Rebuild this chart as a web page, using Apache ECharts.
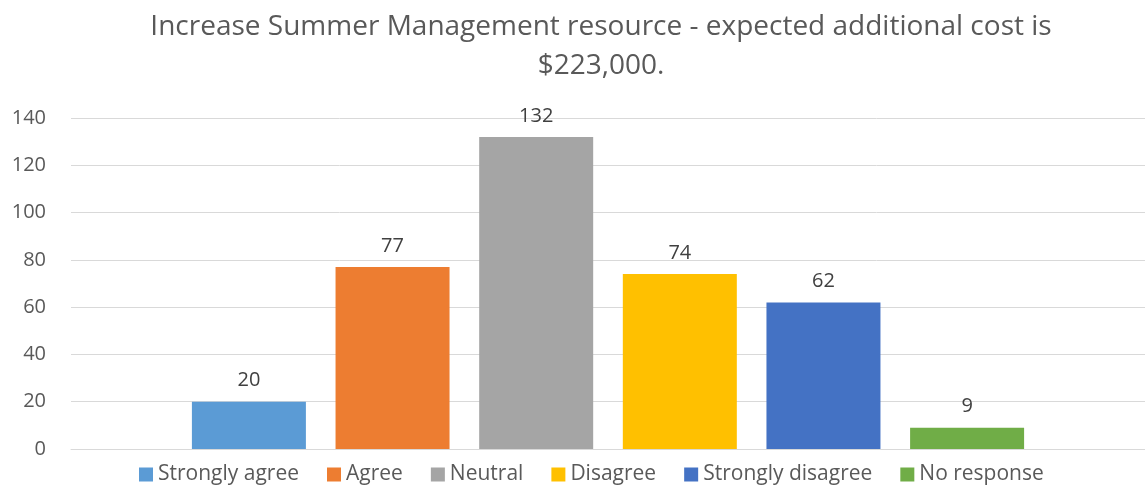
<!DOCTYPE html>
<html>
<head>
<meta charset="utf-8">
<script src="https://cdn.jsdelivr.net/npm/echarts@6.0.0/dist/echarts.min.js"></script>
<style>
  html, body { margin: 0; padding: 0; background: #fff; }
  #chart { width: 1145px; height: 485px; }
</style>
</head>
<body>
<div id="chart"></div>
<script>
// Chart data
const titleText = 'Increase Summer Management resource - expected additional cost is\n$223,000.';
const responses = ['Strongly agree', 'Agree', 'Neutral', 'Disagree', 'Strongly disagree', 'No response'];
const counts = [20, 77, 132, 74, 62, 9];
const colors = ['#5B9BD5', '#ED7D31', '#A5A5A5', '#FFC000', '#4472C4', '#70AD47'];
const yTicks = { min: 0, max: 140, interval: 20 };

const FONT = '"Open Sans", Lato, sans-serif';

const chart = echarts.init(document.getElementById('chart'), null, { renderer: 'canvas' });

const series = responses.map((name, i) => ({
    name: name,
    type: 'bar',
    data: [counts[i]],
    barWidth: 114,
    barGap: '26%',
    itemStyle: { color: colors[i] },
    label: {
        show: true,
        position: 'top',
        distance: 11,
        color: '#404040',
        fontSize: 20,
        fontFamily: FONT
    }
}));

chart.setOption({
    animation: false,
    title: {
        text: titleText,
        left: 596,
        textAlign: 'center',
        top: 3,
        textStyle: {
            color: '#595959',
            fontSize: 28,
            fontWeight: 'normal',
            fontFamily: FONT,
            lineHeight: 39
        }
    },
    legend: {
        top: 459,
        left: 134,
        itemWidth: 14,
        itemHeight: 14,
        itemGap: 28,
        icon: 'rect',
        textStyle: { color: '#595959', fontSize: 21, fontFamily: FONT, padding: [0, 0, 0, 0] }
    },
    grid: { left: 71, right: -6, top: 118, bottom: 36, containLabel: false },
    xAxis: {
        type: 'category',
        data: [''],
        axisLine: { lineStyle: { color: '#d9d9d9', width: 1 } },
        axisTick: { show: false },
        axisLabel: { show: false }
    },
    yAxis: {
        type: 'value',
        min: yTicks.min,
        max: yTicks.max,
        interval: yTicks.interval,
        axisLine: { show: false },
        axisTick: { show: false },
        axisLabel: { color: '#595959', fontSize: 20, fontFamily: FONT, margin: 25 },
        splitLine: { lineStyle: { color: '#d9d9d9', width: 1 } }
    },
    series: series
});
</script>
</body>
</html>
